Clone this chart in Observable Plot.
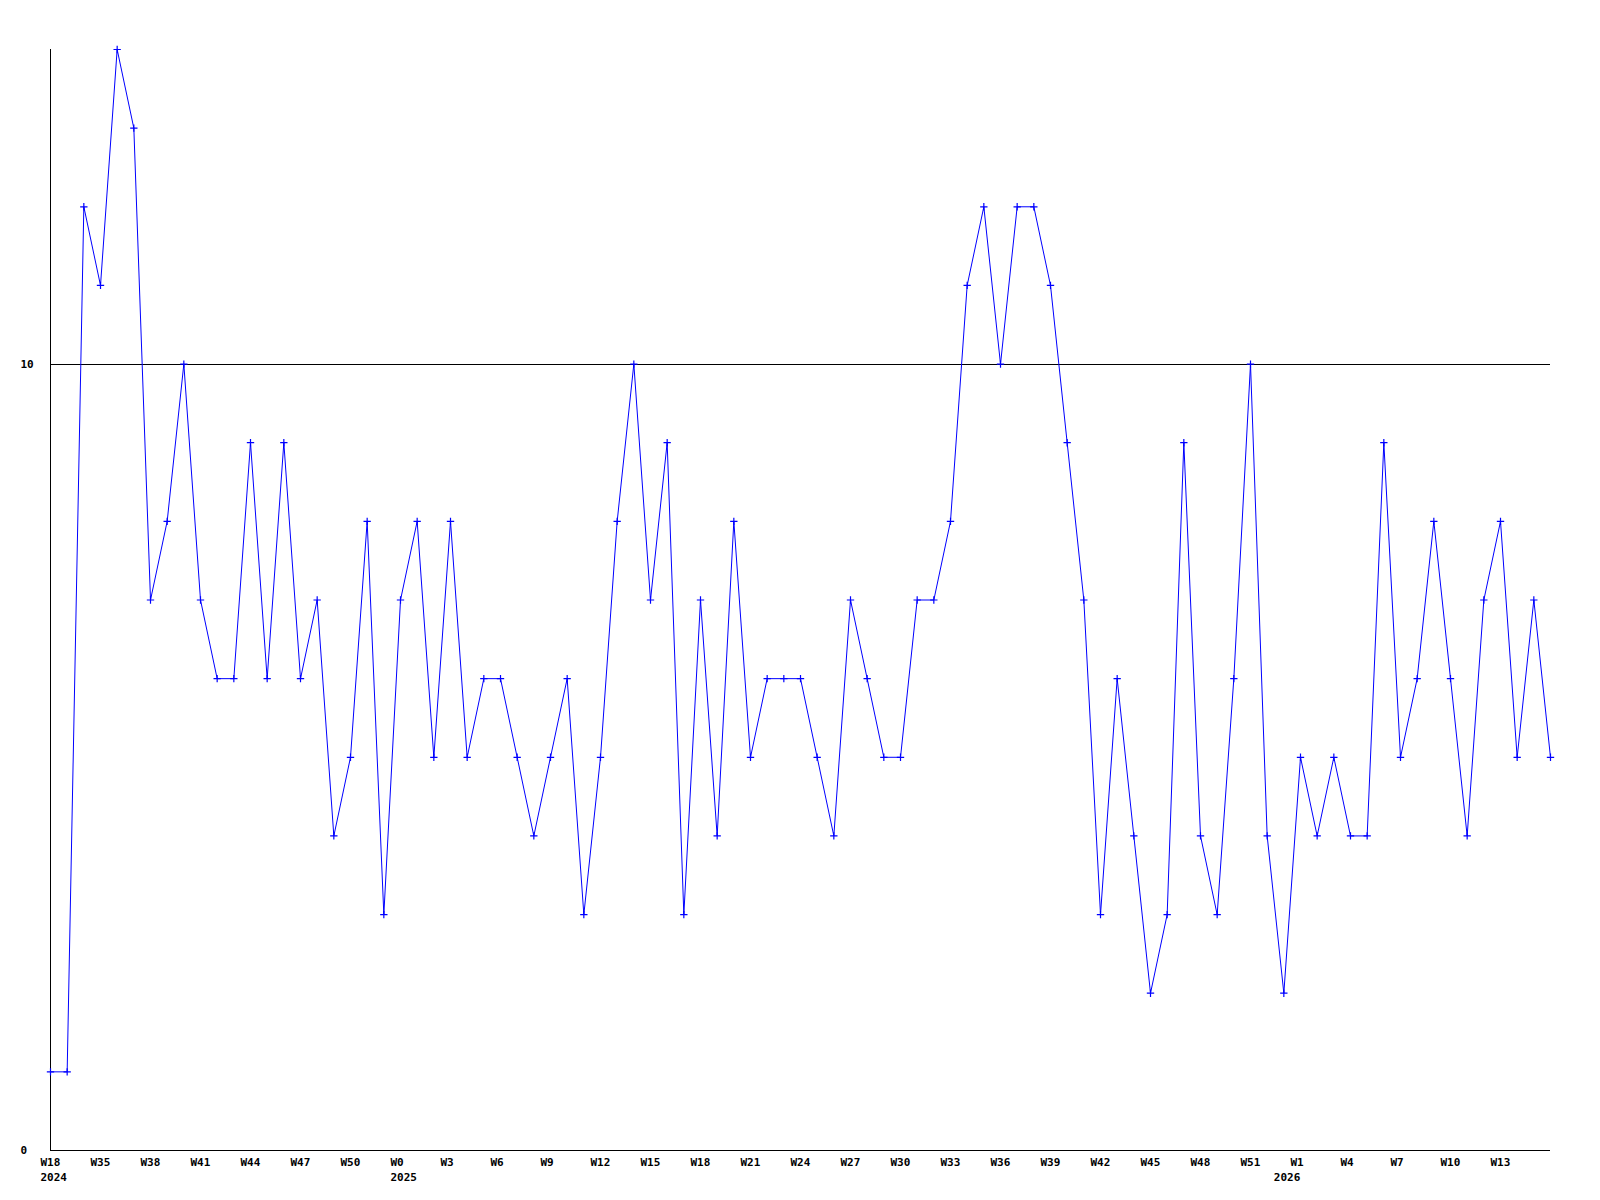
<!DOCTYPE html>
<html>
<head>
<meta charset="utf-8">
<script src="https://cdn.jsdelivr.net/npm/d3@7"></script>
<script src="https://cdn.jsdelivr.net/npm/@observablehq/plot@0.6"></script>
<style>
  html, body { margin: 0; padding: 0; background: #fff; }
  #chart svg { display: block; }
</style>
</head>
<body>
<div id="chart"></div>
<script>
// Weekly values (one per week, in order)
const values = [
  1, 1, 12, 11, 14, 13, 7, 8, 10, 7,
  6, 6, 9, 6, 9, 6, 7, 4, 5, 8,
  3, 7, 8, 5, 8, 5, 6, 6, 5, 4,
  5, 6, 3, 5, 8, 10, 7, 9, 3, 7,
  4, 8, 5, 6, 6, 6, 5, 4, 7, 6,
  5, 5, 7, 7, 8, 11, 12, 10, 12, 12,
  11, 9, 7, 3, 6, 4, 2, 3, 9, 4,
  3, 6, 10, 4, 2, 5, 4, 5, 4, 4,
  9, 5, 6, 8, 6, 4, 7, 8, 5, 7,
  5
];

// Week tick labels and the week index they sit at
const weekTickIdx = [0, 3, 6, 9, 12, 15, 18, 21, 24, 27, 30, 33, 36, 39, 42, 45, 48, 51, 54, 57, 60, 63, 66, 69, 72, 75, 78, 81, 84, 87];
const weekTickLabels = ["W18", "W35", "W38", "W41", "W44", "W47", "W50", "W0", "W3", "W6", "W9", "W12", "W15", "W18", "W21", "W24", "W27", "W30", "W33", "W36", "W39", "W42", "W45", "W48", "W51", "W1", "W4", "W7", "W10", "W13"];

// Year labels
const yearIdx = [0, 21, 74];
const yearLabels = ["2024", "2025", "2026"];

// Y tick labels
const yTicks = [0, 10];
const refLine = [10];

const series = values.map((v, i) => ({ i, v }));
const weekTicks = weekTickIdx.map((i, k) => ({ i, label: weekTickLabels[k] }));
const yearTicks = yearIdx.map((i, k) => ({ i, label: yearLabels[k] }));

const font = "'DejaVu Sans Mono', 'Liberation Mono', monospace";

const chart = Plot.plot({
  width: 1600,
  height: 1200,
  marginLeft: 50,
  marginRight: 50,
  marginTop: 49,
  marginBottom: 50,
  style: { background: "#fff", fontFamily: font, fontSize: "11px", fontWeight: "bold", color: "#000" },
  x: { domain: [0, values.length - 1], axis: null },
  y: { domain: [0, 14], axis: null },
  marks: [
    Plot.ruleY(refLine, { stroke: "#000", strokeWidth: 1, shapeRendering: "crispEdges" }),
    Plot.ruleY([0], { stroke: "#000", strokeWidth: 1, shapeRendering: "crispEdges" }),
    Plot.ruleX([0], { stroke: "#000", strokeWidth: 1, shapeRendering: "crispEdges" }),
    Plot.line(series, { x: "i", y: "v", stroke: "#0000ff", strokeWidth: 1 }),
    Plot.dot(series, { x: "i", y: "v", symbol: "plus", r: 2.5, stroke: "#0000ff", strokeWidth: 1.2 }),
    Plot.text(weekTicks, {
      x: "i", y: () => 0, text: "label",
      textAnchor: "start", lineAnchor: "top", dx: -10, dy: 8,
      fill: "#000", fontFamily: font, fontSize: 11, fontWeight: "bold"
    }),
    Plot.text(yearTicks, {
      x: "i", y: () => 0, text: "label",
      textAnchor: "start", lineAnchor: "top", dx: -10, dy: 23,
      fill: "#000", fontFamily: font, fontSize: 11, fontWeight: "bold"
    }),
    Plot.text(yTicks, {
      y: d => d, text: d => String(d), frameAnchor: "left",
      textAnchor: "start", lineAnchor: "middle", dx: -30,
      fill: "#000", fontFamily: font, fontSize: 11, fontWeight: "bold"
    })
  ]
});

document.getElementById("chart").appendChild(chart);
</script>
</body>
</html>
